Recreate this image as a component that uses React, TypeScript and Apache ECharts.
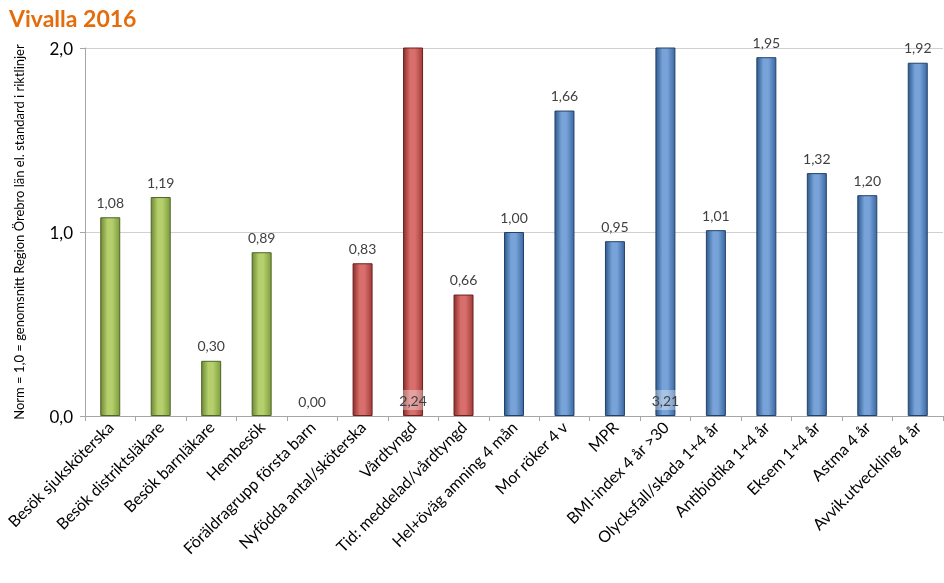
import React, { useEffect, useRef } from "react";
import * as echarts from "echarts";

const categories = [
  "Besök sjuksköterska",
  "Besök distriktsläkare",
  "Besök barnläkare",
  "Hembesök",
  "Föräldragrupp första barn",
  "Nyfödda antal/sköterska",
  "Vårdtyngd",
  "Tid: meddelad/vårdtyngd",
  "Hel+öväg amning 4 mån",
  "Mor röker 4 v",
  "MPR",
  "BMI-index 4 år >30",
  "Olycksfall/skada 1+4 år",
  "Antibiotika 1+4 år",
  "Eksem 1+4 år",
  "Astma 4 år",
  "Avvik.utveckling 4 år",
];
const values = [1.08, 1.19, 0.3, 0.89, 0.0, 0.83, 2.24, 0.66, 1.0, 1.66, 0.95, 3.21, 1.01, 1.95, 1.32, 1.2, 1.92];
const groups = ["g", "g", "g", "g", "g", "r", "r", "r", "b", "b", "b", "b", "b", "b", "b", "b", "b"];
const yTicks = [0, 1, 2];

const palettes: Record<string, [string, string, string]> = {
  g: ["#6f8a35", "#b4cf6c", "#7f9d3e"],
  r: ["#8e2f2c", "#d86f6c", "#a33c39"],
  b: ["#2f5a8e", "#78a3d9", "#3b69a3"],
};
const borders: Record<string, string> = { g: "#4f6428", r: "#6b2220", b: "#23426a" };

function grad(g: string) {
  const [edge, mid, right] = palettes[g];
  return new echarts.graphic.LinearGradient(0, 0, 1, 0, [
    { offset: 0, color: edge },
    { offset: 0.35, color: mid },
    { offset: 0.6, color: mid },
    { offset: 1, color: right },
  ]);
}

const fmt = (v: number) => v.toFixed(2).replace(".", ",");

export default function App() {
  const ref = useRef<HTMLDivElement>(null);
  useEffect(() => {
    if (!ref.current) return;
    const chart = echarts.init(ref.current, undefined, { renderer: "svg" });
    const yMax = yTicks[yTicks.length - 1];
    const data = values.map((v, i) => {
      const clipped = v > yMax;
      return {
        value: v,
        itemStyle: {
          color: grad(groups[i]),
          borderColor: borders[groups[i]],
          borderWidth: v === 0 ? 0 : 1,
        },
        label: clipped
          ? {
              show: true,
              position: "insideBottom",
              distance: 6,
              backgroundColor: "rgba(255,255,255,0.35)",
              padding: [3, 2, 3, 2],
              color: "#404040",
              formatter: () => fmt(v),
            }
          : undefined,
      };
    });
    chart.setOption({
      animation: false,
      textStyle: { fontFamily: "Lato, 'Open Sans', sans-serif" },
      title: {
        text: "Vivalla 2016",
        left: 4,
        top: 1,
        textStyle: { color: "#e46c0a", fontSize: 23, fontWeight: "bold", fontFamily: "Lato, sans-serif" },
      },
      grid: { left: 85, right: 1, top: 48, bottom: 167, containLabel: false },
      xAxis: {
        type: "category",
        data: categories,
        axisLine: { lineStyle: { color: "#a6a6a6" } },
        axisTick: { show: true, length: 5, lineStyle: { color: "#a6a6a6" } },
        axisLabel: { rotate: 45, fontSize: 16, color: "#000", margin: 8, interval: 0 },
      },
      yAxis: {
        type: "value",
        min: 0,
        max: yMax,
        interval: 1,
        name: "Norm = 1,0 = genomsnitt Region Örebro län el. standard i riktlinjer",
        nameLocation: "middle",
        nameRotate: 90,
        nameGap: 60,
        nameTextStyle: { fontSize: 13, color: "#000" },
        axisLine: { show: true, lineStyle: { color: "#a6a6a6" } },
        axisTick: { show: true, length: 5, lineStyle: { color: "#a6a6a6" } },
        axisLabel: {
          fontSize: 17,
          color: "#000",
          margin: 12,
          formatter: (v: number) => v.toFixed(1).replace(".", ","),
        },
        splitLine: { show: true, lineStyle: { color: "#d0d0d0" } },
      },
      series: [
        {
          type: "bar",
          data,
          barWidth: 20,
          clip: true,
          label: {
            show: true,
            position: "top",
            distance: 8,
            fontSize: 14,
            color: "#404040",
            formatter: (p: any) => fmt(p.value),
          },
        },
      ],
    });
    return () => chart.dispose();
  }, []);
  return <div ref={ref} style={{ position: "fixed", left: 0, top: 0, width: 944, height: 583 }} />;
}
